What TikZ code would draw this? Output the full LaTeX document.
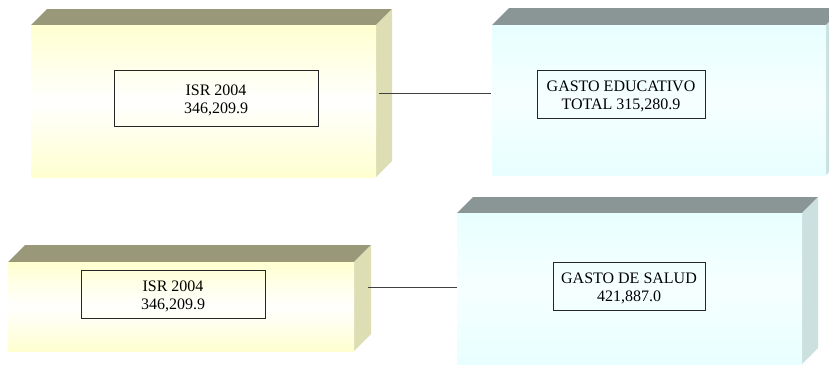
\documentclass[tikz,border=0pt]{standalone}
\usepackage{fontspec}
\setmainfont{Liberation Serif}
\definecolor{ytop}{RGB}{153,153,122}
\definecolor{yside}{RGB}{222,222,180}
\definecolor{yfront}{RGB}{255,255,208}
\definecolor{ctop}{RGB}{138,150,150}
\definecolor{cside}{RGB}{204,224,224}
\definecolor{cfront}{RGB}{232,255,255}
\tikzset{
  label box/.style={draw=black!85, line width=0.8pt, inner sep=0pt},
  box text/.style={align=center, inner sep=0pt, yshift=-2.5pt,
    font=\fontsize{16}{18.5}\selectfont},
  link/.style={draw=black!75, line width=0.9pt},
}
\newcommand\slabbox[7]{%
  \fill[#6] (#1,#2) -- (#1+#5,#2-#5) -- (#3+#5,#2-#5) -- (#3,#2) -- cycle;
  \fill[#7] (#3,#2) -- (#3+#5,#2-#5) -- (#3+#5,#4-#5) -- (#3,#4) -- cycle;
}
\begin{document}
\begin{tikzpicture}[x=1pt,y=-1pt]
\useasboundingbox (0,0) rectangle (829,365);
% box 1
\slabbox{31}{25}{376}{177}{16}{ytop}{yside}
\shade[top color=yfront, bottom color=yfront, middle color=white] (31,25) rectangle (376,177);
% box 2
\slabbox{492}{25}{826}{175}{17}{ctop}{cside}
\shade[top color=cfront, bottom color=cfront, middle color=cfront!40!white] (492,25) rectangle (826,175);
% box 3
\slabbox{8}{262}{354}{351}{17}{ytop}{yside}
\shade[top color=yfront, bottom color=yfront, middle color=white] (8,262) rectangle (354,351);
% box 4
\slabbox{457}{213}{802}{364}{16}{ctop}{cside}
\shade[top color=cfront, bottom color=cfront, middle color=cfront!40!white] (457,213) rectangle (802,364);

\node[label box, minimum width=204pt, minimum height=56pt,
  label={[box text]center:ISR 2004\\346,209.9}] (isr1) at (216,98) {};
\node[label box, minimum width=168pt, minimum height=48pt,
  label={[box text]center:GASTO EDUCATIVO\\TOTAL 315,280.9}] (edu) at (621,94) {};
\node[label box, minimum width=184pt, minimum height=48pt,
  label={[box text]center:ISR 2004\\346,209.9}] (isr2) at (173,294) {};
\node[label box, minimum width=152pt, minimum height=48pt,
  label={[box text]center:GASTO DE SALUD\\421,887.0}] (salud) at (629,286) {};

\coordinate (a1) at (379,93);
\coordinate (b1) at (491,93);
\coordinate (a2) at (368,287);
\coordinate (b2) at (457,287);
\draw[link] (a1) -- (b1);
\draw[link] (a2) -- (b2);
\end{tikzpicture}
\end{document}
